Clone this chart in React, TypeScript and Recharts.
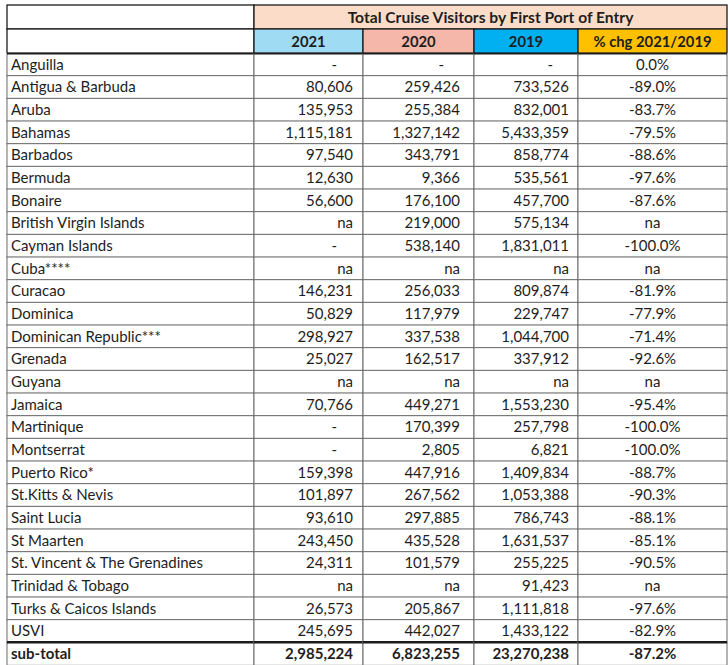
import { Bar, BarChart, XAxis, YAxis } from "recharts";

// ---- data (null = "na", 0 = "-") ----
const ports = [
  "Anguilla",
  "Antigua & Barbuda",
  "Aruba",
  "Bahamas",
  "Barbados",
  "Bermuda",
  "Bonaire",
  "British Virgin Islands",
  "Cayman Islands",
  "Cuba****",
  "Curacao",
  "Dominica",
  "Dominican Republic***",
  "Grenada",
  "Guyana",
  "Jamaica",
  "Martinique",
  "Montserrat",
  "Puerto Rico*",
  "St.Kitts & Nevis",
  "Saint Lucia",
  "St Maarten",
  "St. Vincent & The Grenadines",
  "Trinidad & Tobago",
  "Turks & Caicos Islands",
  "USVI",
  "sub-total",
];

const visitors2021: (number | null)[] = [
  0, 80606, 135953, 1115181, 97540, 12630, 56600, null, 0, null, 146231, 50829,
  298927, 25027, null, 70766, 0, 0, 159398, 101897, 93610, 243450, 24311, null,
  26573, 245695, 2985224,
];

const visitors2020: (number | null)[] = [
  0, 259426, 255384, 1327142, 343791, 9366, 176100, 219000, 538140, null,
  256033, 117979, 337538, 162517, null, 449271, 170399, 2805, 447916, 267562,
  297885, 435528, 101579, null, 205867, 442027, 6823255,
];

const visitors2019: (number | null)[] = [
  0, 733526, 832001, 5433359, 858774, 535561, 457700, 575134, 1831011, null,
  809874, 229747, 1044700, 337912, null, 1553230, 257798, 6821, 1409834,
  1053388, 786743, 1631537, 255225, 91423, 1111818, 1433122, 23270238,
];

const pctChange: (number | null)[] = [
  0.0, -89.0, -83.7, -79.5, -88.6, -97.6, -87.6, null, -100.0, null, -81.9,
  -77.9, -71.4, -92.6, null, -95.4, -100.0, -100.0, -88.7, -90.3, -88.1, -85.1,
  -90.5, null, -97.6, -82.9, -87.2,
];

const title = "Total Cruise Visitors by First Port of Entry";
const yearLabels = ["2021", "2020", "2019", "% chg 2021/2019"];

// ---- layout ----
const FONT = "Lato, 'Open Sans', sans-serif";
const TEXT = "#1e1e1e";
const GRID = "#6a6a6a";
const DARK = "#1c1c1c";

type Col = {
  field: string;
  width: number;
  align: "left" | "right" | "center";
  pad: number;
  headFill: string;
};

const COLS: Col[] = [
  { field: "name", width: 247, align: "left", pad: 4, headFill: "#ffffff" },
  { field: "y2021", width: 109, align: "right", pad: 10, headFill: "#9fdbf3" },
  { field: "y2020", width: 111, align: "right", pad: 14, headFill: "#f5b7aa" },
  { field: "y2019", width: 104, align: "right", pad: 9, headFill: "#00b0f0" },
  { field: "pct", width: 149, align: "center", pad: 0, headFill: "#ffc000" },
];
const TOTAL_W = COLS.reduce((s, c) => s + c.width, 0);
const MERGED_W = TOTAL_W - COLS[0].width;

const fmtCount = (v: number | null) =>
  v === null ? "na" : v === 0 ? "-" : v.toLocaleString("en-US");
const fmtPct = (v: number | null) => (v === null ? "na" : `${v.toFixed(1)}%`);

const rows = ports.map((name, i) => ({
  key: `row-${i}`,
  idx: i,
  name,
  y2021: fmtCount(visitors2021[i]),
  y2020: fmtCount(visitors2020[i]),
  y2019: fmtCount(visitors2019[i]),
  pct: fmtPct(pctChange[i]),
}));

const headerRows = [
  { key: "head-title", kind: "title" },
  { key: "head-years", kind: "years" },
];

// stable accessors: each column spans its width on the x axis
const colSpan = COLS.map((c) => () => c.width);
const headNameSpan = () => COLS[0].width;
const headMergedSpan = (d: any) => (d.kind === "title" ? MERGED_W : 0);
const headColSpan = COLS.map((c) => (d: any) => (d.kind === "years" ? c.width : 0));

const bodyShapes = COLS.map((col) => (props: any) => {
  const { x, y, width, height, payload } = props;
  const text: string = payload[col.field];
  const last = payload.idx === ports.length - 1;
  let tx = x + width / 2;
  let anchor: "start" | "end" | "middle" = "middle";
  if (col.align === "left") {
    tx = x + col.pad;
    anchor = "start";
  } else if (col.align === "right") {
    tx = x + width - col.pad - (text === "-" ? 16 : 0);
    anchor = "end";
  }
  return (
    <g>
      <rect x={x} y={y} width={width} height={height} fill="#fff" stroke={GRID} strokeWidth={1} />
      {payload.idx === 0 && (
        <line x1={x} x2={x + width} y1={y} y2={y} stroke={DARK} strokeWidth={3} />
      )}
      {last && <line x1={x} x2={x + width} y1={y} y2={y} stroke={DARK} strokeWidth={2.5} />}
      <text
        x={tx}
        y={y + height / 2 + 5}
        textAnchor={anchor}
        fontFamily={FONT}
        fontSize={15}
        fontWeight={last ? 700 : 400}
        fill={TEXT}
      >
        {text}
      </text>
    </g>
  );
});

const headCell = (fill: string, label: (d: any) => string, size: number) => (props: any) => {
  const { x, y, width, height, payload } = props;
  if (!width || width < 0.5) return <g />;
  return (
    <g>
      <rect x={x} y={y} width={width} height={height} fill={fill} stroke={DARK} strokeWidth={1.3} />
      <text
        x={x + width / 2}
        y={y + height / 2 + 5.5}
        textAnchor="middle"
        fontFamily={FONT}
        fontSize={size}
        fontWeight={700}
        fill={TEXT}
      >
        {label(payload)}
      </text>
    </g>
  );
};

const headNameShape = headCell("#ffffff", () => "", 15);
const headMergedShape = headCell("#fbdcc8", () => title, 15.6);
const headColShapes = COLS.map((c, i) => headCell(c.headFill, () => yearLabels[i - 1] ?? "", 14.8));

const margin = { top: 0, right: 1, bottom: 0, left: 7 };

export default function App() {
  return (
    <div
      style={{
        position: "absolute",
        left: 0,
        top: 0,
        width: 728,
        height: 665,
        background: "#fff",
        overflow: "hidden",
      }}
    >
      <BarChart
        layout="vertical"
        width={728}
        height={53}
        data={headerRows}
        margin={{ ...margin, top: 5 }}
        barCategoryGap={0}
        barGap={0}
      >
        <XAxis type="number" hide domain={[0, TOTAL_W]} />
        <YAxis type="category" dataKey="key" hide />
        <Bar dataKey={headNameSpan} stackId="h" isAnimationActive={false} shape={headNameShape} />
        <Bar dataKey={headMergedSpan} stackId="h" isAnimationActive={false} shape={headMergedShape} />
        {COLS.slice(1).map((c, i) => (
          <Bar
            key={c.field}
            dataKey={headColSpan[i + 1]}
            stackId="h"
            isAnimationActive={false}
            shape={headColShapes[i + 1]}
          />
        ))}
      </BarChart>
      <BarChart
        layout="vertical"
        width={728}
        height={612}
        data={rows}
        margin={margin}
        barCategoryGap={0}
        barGap={0}
      >
        <XAxis type="number" hide domain={[0, TOTAL_W]} />
        <YAxis type="category" dataKey="key" hide />
        {COLS.map((c, i) => (
          <Bar
            key={c.field}
            dataKey={colSpan[i]}
            stackId="row"
            isAnimationActive={false}
            shape={bodyShapes[i]}
          />
        ))}
      </BarChart>
    </div>
  );
}
